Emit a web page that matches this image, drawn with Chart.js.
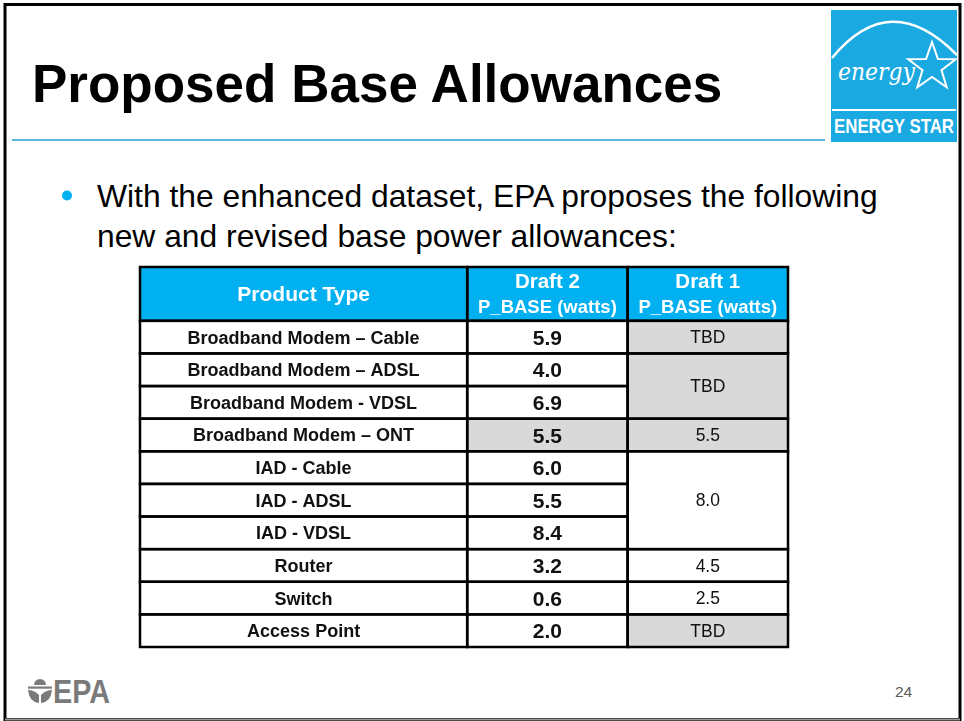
<!DOCTYPE html>
<html>
<head>
<meta charset="utf-8">
<script src="https://cdn.jsdelivr.net/npm/chart.js@4.4.1/dist/chart.umd.min.js"></script>
<style>
  html, body { margin: 0; padding: 0; background: #fff; }
  #slide { position: relative; width: 964px; height: 721px; overflow: hidden; }
  #decor { position: absolute; left: 0; top: 0; }
  #tableBox { position: absolute; left: 130px; top: 257px; width: 670px; height: 400px; }
</style>
</head>
<body>
<div id="slide">
  <svg id="decor" width="964" height="721" font-family="'Liberation Sans', Arial, sans-serif">
    <!-- slide frame -->
    <rect x="5" y="4.5" width="955" height="715" fill="none" stroke="#000" stroke-width="3"/>
    <line x1="5" y1="719.5" x2="960" y2="719.5" stroke="#9a9a9a" stroke-width="2"/>

    <text x="32" y="102" font-size="53" font-weight="bold" fill="#000">Proposed Base Allowances</text>
    <line x1="12" y1="140" x2="825" y2="140" stroke="#5bb8da" stroke-width="2"/>

    <!-- energy star mark -->
    <g>
      <rect x="831" y="10" width="126" height="132" fill="#1ba9e1"/>
      <clipPath id="logoClip"><rect x="831" y="10" width="126" height="100"/></clipPath>
      <path d="M832 58 Q890 -13 957 55" stroke="#fff" stroke-width="2.5" fill="none" clip-path="url(#logoClip)"/>
      <polygon points="932,42 937.9,58.9 955.8,59.3 941.5,70.1 946.7,87.2 932,77 917.3,87.2 922.5,70.1 908.2,59.3 926.1,58.9"
               fill="none" stroke="#fff" stroke-width="2"/>
      <text x="838" y="80" font-family="'DejaVu Serif', serif" font-style="italic" font-size="25"
            textLength="77" lengthAdjust="spacingAndGlyphs" fill="#fff">energy</text>
      <line x1="832" y1="110" x2="956" y2="110" stroke="#fff" stroke-width="2"/>
      <text x="894" y="133" text-anchor="middle" font-weight="bold" font-size="21"
            textLength="120" lengthAdjust="spacingAndGlyphs" fill="#fff">ENERGY STAR</text>
    </g>

    <!-- bullet -->
    <circle cx="67" cy="195.5" r="5" fill="#00b0f0"/>
    <text x="97" y="207" font-size="31.8" fill="#000">With the enhanced dataset, EPA proposes the following</text>
    <text x="97" y="247" font-size="31.8" fill="#000">new and revised base power allowances:</text>

    <!-- EPA footer mark -->
    <g fill="#7a7a7a">
      <path d="M34 685 A6 6 0 0 1 46 685 Z"/>
      <rect x="28" y="686.5" width="24" height="2.2"/>
      <path d="M28 690 Q29 702 39 703 L39 695 Q34 690 28 690 Z"/>
      <path d="M52 690 Q51 702 41 703 L41 695 Q46 690 52 690 Z"/>
      <text x="53" y="703" font-size="34" font-weight="bold" textLength="57" lengthAdjust="spacingAndGlyphs">EPA</text>
    </g>
    <text x="895" y="697" font-size="15.5" fill="#595959">24</text>
  </svg>
  <div id="tableBox"><canvas id="tableChart"></canvas></div>
</div>

<script>
// table content
const productTypes = [
  'Broadband Modem \u2013 Cable',
  'Broadband Modem \u2013 ADSL',
  'Broadband Modem - VDSL',
  'Broadband Modem \u2013 ONT',
  'IAD - Cable',
  'IAD - ADSL',
  'IAD - VDSL',
  'Router',
  'Switch',
  'Access Point'
];
const draft2Watts = ['5.9', '4.0', '6.9', '5.5', '6.0', '5.5', '8.4', '3.2', '0.6', '2.0'];
// Draft 1 column has merged cells: each label covers draft1RowSpans[i] rows
const draft1Labels = ['TBD', 'TBD', '5.5', '8.0', '4.5', '2.5', 'TBD'];
const draft1RowSpans = [1, 2, 1, 3, 1, 1, 1];
const headerLabels = ['Product Type', 'Draft 2', 'Draft 1'];
const headerUnit = 'P_BASE (watts)';

const HEADER_ROWS = 1.65;          // header height in row units
const COL_SPANS = [2.04, 1, 1];    // relative column widths
const FONT = '"Liberation Sans", Arial, sans-serif';
const BLUE = '#00b0f0';
const GRAY = '#d9d9d9';

const colEdges = COL_SPANS.reduce((acc, w) => { acc.push(acc[acc.length - 1] + w); return acc; }, [0]);

// Draft 1 groups -> start row, shading (TBD or unchanged value)
const draft1Groups = [];
let r0 = 0;
draft1Labels.forEach((label, i) => {
  const span = draft1RowSpans[i];
  const same = span === 1 && draft2Watts[r0] === label;
  draft1Groups.push({ label, start: r0, end: r0 + span, shaded: label === 'TBD' || same, same });
  r0 += span;
});

const tablePlugin = {
  id: 'tableCells',
  afterDraw(chart) {
    const { ctx } = chart;
    const { x, y } = chart.scales;
    const px = v => x.getPixelForValue(v);
    const py = v => y.getPixelForValue(v);

    const cells = [];
    // header
    headerLabels.forEach((label, c) => {
      cells.push({ x0: colEdges[c], x1: colEdges[c + 1], y0: -HEADER_ROWS, y1: 0, fill: BLUE, header: true, label, c });
    });
    // product type + draft 2
    productTypes.forEach((name, r) => {
      cells.push({ x0: colEdges[0], x1: colEdges[1], y0: r, y1: r + 1, fill: '#fff', label: name, font: 'bold 18px ' + FONT });
      const same = draft1Groups.some(g => g.same && g.start === r);
      cells.push({ x0: colEdges[1], x1: colEdges[2], y0: r, y1: r + 1, fill: same ? GRAY : '#fff', label: draft2Watts[r], font: 'bold 21px ' + FONT });
    });
    // draft 1 (merged)
    draft1Groups.forEach(g => {
      cells.push({ x0: colEdges[2], x1: colEdges[3], y0: g.start, y1: g.end, fill: g.shaded ? GRAY : '#fff', label: g.label, font: '17.5px ' + FONT });
    });

    ctx.save();
    cells.forEach(cl => {
      ctx.fillStyle = cl.fill;
      ctx.fillRect(px(cl.x0), py(cl.y0), px(cl.x1) - px(cl.x0), py(cl.y1) - py(cl.y0));
    });
    ctx.strokeStyle = '#000';
    ctx.lineWidth = 2.5;
    cells.forEach(cl => {
      ctx.strokeRect(px(cl.x0), py(cl.y0), px(cl.x1) - px(cl.x0), py(cl.y1) - py(cl.y0));
    });

    ctx.textAlign = 'center';
    ctx.textBaseline = 'alphabetic';
    cells.forEach(cl => {
      const cx = (px(cl.x0) + px(cl.x1)) / 2;
      const top = py(cl.y0), bot = py(cl.y1), h = bot - top;
      if (cl.header) {
        ctx.fillStyle = '#fff';
        if (cl.c === 0) {
          ctx.font = 'bold 21px ' + FONT;
          ctx.fillText(cl.label, cx, top + h / 2 + 7.5);
        } else {
          ctx.font = 'bold 20.5px ' + FONT;
          ctx.fillText(cl.label, cx, top + h * 0.39);
          ctx.font = 'bold 18.5px ' + FONT;
          ctx.fillText(headerUnit, cx, top + h * 0.855);
        }
        return;
      }
      ctx.fillStyle = cl.header ? '#fff' : '#111';
      ctx.font = cl.font;
      const size = parseFloat(cl.font.match(/([\d.]+)px/)[1]);
      ctx.fillText(cl.label, cx, (top + bot) / 2 + size * 0.716 / 2);
    });
    ctx.restore();
  }
};

new Chart(document.getElementById('tableChart'), {
  type: 'scatter',
  data: { datasets: [] },
  options: {
    responsive: true,
    maintainAspectRatio: false,
    animation: false,
    layout: { padding: { left: 10, top: 10, right: 12, bottom: 10 } },
    plugins: { legend: { display: false }, tooltip: { enabled: false } },
    scales: {
      x: { type: 'linear', min: 0, max: colEdges[colEdges.length - 1], display: false },
      y: { type: 'linear', min: -HEADER_ROWS, max: productTypes.length, reverse: true, display: false }
    }
  },
  plugins: [tablePlugin]
});
</script>
</body>
</html>
